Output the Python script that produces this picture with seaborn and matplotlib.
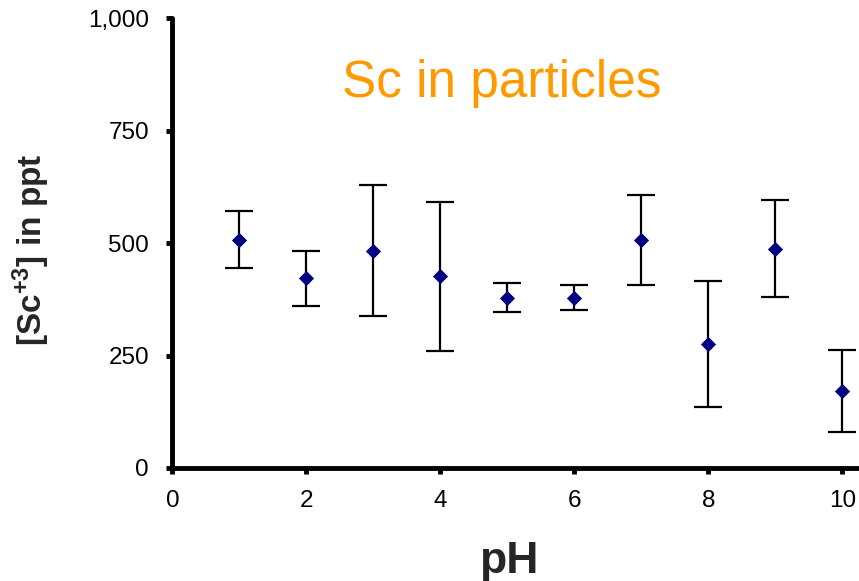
import matplotlib
matplotlib.use("Agg")
import matplotlib.pyplot as plt
import seaborn as sns
import pandas as pd

# values
ph = [1, 2, 3, 4, 5, 6, 7, 8, 9, 10]
sc_ppt = [508, 422, 483, 426, 379, 379, 508, 276, 488, 171]
sc_err = [63, 61, 146, 166, 33, 28, 100, 140, 107, 92]

x_ticks = [0, 2, 4, 6, 8, 10]
y_ticks = [0, 250, 500, 750, 1000]
y_tick_labels = ["0", "250", "500", "750", "1,000"]

df = pd.DataFrame({"pH": ph, "Sc": sc_ppt, "err": sc_err})

sns.set_theme(style="white")
plt.rcParams["font.family"] = ["Liberation Sans", "DejaVu Sans"]
plt.rcParams["mathtext.fontset"] = "custom"
plt.rcParams["mathtext.rm"] = "Liberation Sans:bold"
plt.rcParams["mathtext.default"] = "rm"

fig = plt.figure(figsize=(8.59, 5.81), dpi=100)
ax = fig.add_axes([0.2008, 0.1945, 0.7992, 0.774])

# error bars first, markers on top
ax.errorbar(df["pH"], df["Sc"], yerr=df["err"], fmt="none", ecolor="black",
            elinewidth=1.6, capsize=10, capthick=1.6, zorder=2)
sns.scatterplot(data=df, x="pH", y="Sc", marker="D", s=60, color="#000080",
                edgecolor="#000080", linewidth=0, ax=ax, zorder=3)

ax.set_xlim(0, 10.25)
ax.set_ylim(0, 1000)
ax.set_xticks(x_ticks)
ax.set_yticks(y_ticks)
ax.set_yticklabels(y_tick_labels)

for side in ["top", "right"]:
    ax.spines[side].set_visible(False)
for side in ["left", "bottom"]:
    ax.spines[side].set_linewidth(3.5)
    ax.spines[side].set_color("black")
    ax.spines[side].set_capstyle("round")

ax.tick_params(axis="both", direction="out", length=4, width=3.5,
               color="black", labelsize=17.5, labelcolor="black",
               bottom=True, left=True)
ax.tick_params(axis="x", pad=12)
ax.tick_params(axis="y", pad=13)

ax.set_xlabel("pH", fontsize=32, fontweight="bold")
ax.xaxis.set_label_coords(0.49, -0.163)
ax.set_ylabel(r"[Sc$^{+3}$] in ppt", fontsize=24, fontweight="bold")
ax.yaxis.set_label_coords(-0.175, 0.485)

ax.text(4.91, 825, "Sc in particles", color="#FF9900", fontsize=37,
        ha="center", va="baseline")

fig.savefig("out.png", dpi=100)
